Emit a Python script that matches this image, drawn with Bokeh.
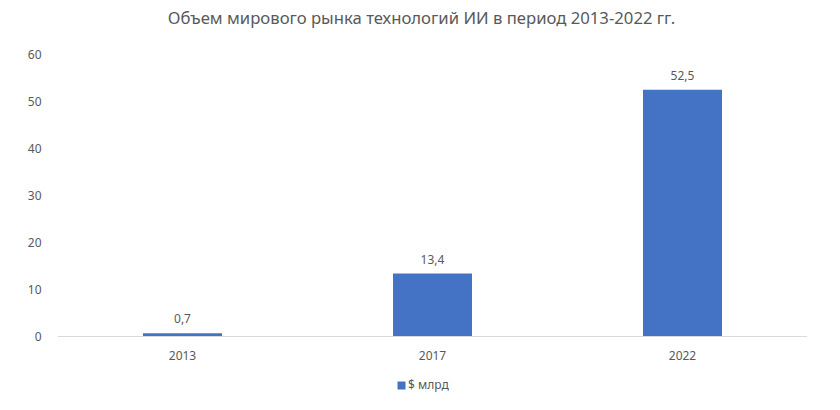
from bokeh.plotting import figure
from bokeh.models import FactorRange, Range1d, Legend, LegendItem, ColumnDataSource, FixedTicker, Span
from bokeh.core.properties import value
from bokeh.embed import file_html
from bokeh.resources import INLINE

years = ["2013", "2017", "2022"]
values = [0.7, 13.4, 52.5]
value_labels = ["0,7", "13,4", "52,5"]
series_name = "$ млрд"
title_text = "Объем мирового рынка технологий ИИ в период 2013-2022 гг."
y_ticks = [0, 10, 20, 30, 40, 50, 60]

FONT = "Noto Sans"
GRAY = "#595959"
BLUE = "#4472C4"

# layout constants (pixels)
W, H = 840, 410
LEFT, RIGHT = 57, 33
TOP_PX, ZERO_PX = 54, 336          # pixel rows of y=60 and y=0
PX_PER_UNIT = (ZERO_PX - TOP_PX) / 60.0
y_lo = -(H - ZERO_PX) / PX_PER_UNIT
y_hi = 60 + TOP_PX / PX_PER_UNIT

src = ColumnDataSource(dict(x=years, top=values, lab=value_labels, zero=[0] * len(years)))

p = figure(width=W, height=H, x_range=FactorRange(*years, range_padding=0),
           y_range=Range1d(y_lo, y_hi), output_backend="svg", toolbar_location=None,
           min_border_left=LEFT, min_border_right=RIGHT, min_border_top=0, min_border_bottom=0)

p.outline_line_color = None
p.xgrid.grid_line_color = None
p.ygrid.grid_line_color = None
p.xaxis.visible = False

# baseline
p.add_layout(Span(location=0, dimension="width", line_color="#D9D9D9", line_width=1))

r = p.vbar(x="x", top="top", width=0.316, source=src, color=BLUE, line_color=None)

# value labels
p.text(x="x", y="top", text="lab", source=src, text_align="center", text_baseline="bottom",
       y_offset=-10, text_font=value(FONT), text_font_size="12px", text_color=GRAY)

# category labels
p.text(x="x", y="zero", text="x", source=src, text_align="center", text_baseline="middle",
       y_offset=19, text_font=value(FONT), text_font_size="12px", text_color=GRAY)

# title
p.text(x=[years[1]], y=[60 + (TOP_PX - 17) / PX_PER_UNIT], text=[title_text],
       text_align="center", text_baseline="middle", x_offset=-11,
       text_font=value(FONT), text_font_size="16.7px", text_color=GRAY)

p.yaxis.ticker = FixedTicker(ticks=y_ticks)
p.yaxis.axis_line_color = None
p.yaxis.major_tick_line_color = None
p.yaxis.minor_tick_line_color = None
p.yaxis.major_label_text_font = FONT
p.yaxis.major_label_text_font_size = "12px"
p.yaxis.major_label_text_color = GRAY
p.yaxis.major_label_standoff = 10

legend = Legend(items=[LegendItem(label=series_name, renderers=[r])], orientation="horizontal",
                location=(339, 17), border_line_color=None, background_fill_alpha=0,
                label_text_font=FONT, label_text_font_size="12px", label_text_color=GRAY,
                glyph_width=10, glyph_height=10, label_standoff=2, padding=0, margin=0,
                label_height=14)
p.add_layout(legend, "center")

open("out.html", "w").write(file_html(p, INLINE))
